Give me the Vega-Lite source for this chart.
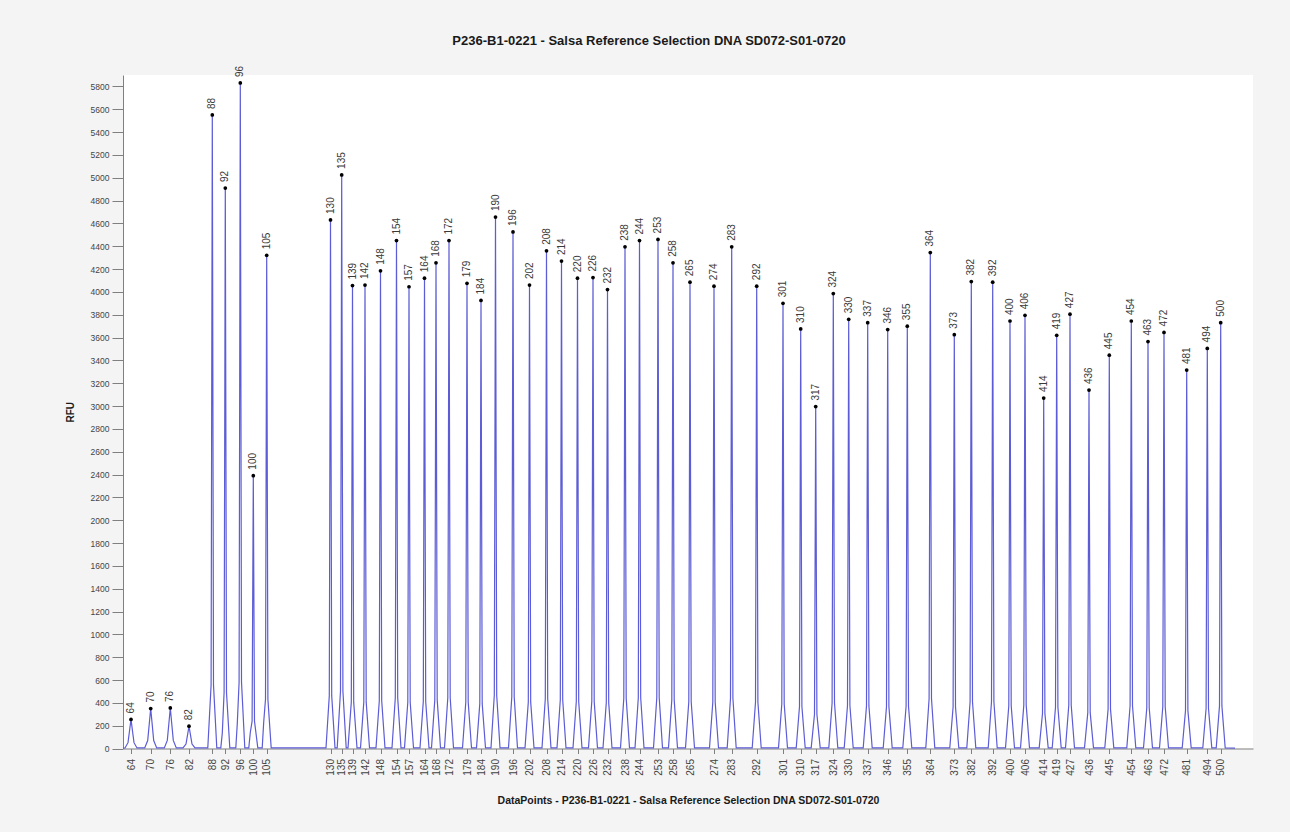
{
 "$schema": "https://vega.github.io/schema/vega-lite/v6.json",
 "autosize": {"type": "none"},
 "width": 1130,
 "height": 673.5,
 "padding": {"left": 123, "top": 75, "right": 37, "bottom": 83.5},
 "background": "#f4f4f4",
 "title": {"text": "P236-B1-0221 - Salsa Reference Selection DNA SD072-S01-0720", "font": "Liberation Sans", "fontSize": 13, "fontWeight": "bold", "color": "#1a1a1a", "anchor": "middle", "frame": "group", "dx": -39, "offset": 5, "baseline": "bottom"},
 "config": {"view": {"stroke": null, "fill": "white"}, "font": "Liberation Sans"},
 "datasets": {
  "trace": [
   {"x":0,"y":3},
   {"x":2.0,"y":5},{"x":5.0,"y":51},{"x":6.5,"y":153},{"x":8.0,"y":255},{"x":9.5,"y":153},{"x":11.0,"y":51},{"x":14.0,"y":5},
   {"x":21.7,"y":5},{"x":24.7,"y":70},{"x":26.2,"y":210},{"x":27.7,"y":350},{"x":29.2,"y":210},{"x":30.7,"y":70},{"x":33.7,"y":5},
   {"x":41.3,"y":5},{"x":44.3,"y":71},{"x":45.8,"y":213},{"x":47.3,"y":355},{"x":48.8,"y":213},{"x":50.3,"y":71},{"x":53.3,"y":5},
   {"x":60.0,"y":5},{"x":63.0,"y":39},{"x":64.5,"y":117},{"x":66.0,"y":195},{"x":67.5,"y":117},{"x":69.0,"y":39},{"x":72.0,"y":5},
   {"x":84.8,"y":5},{"x":88.1,"y":555},{"x":89.3,"y":5550},{"x":90.5,"y":555},{"x":93.8,"y":5},
   {"x":97.8,"y":5},{"x":99.3,"y":135},{"x":101.1,"y":491},{"x":102.3,"y":4910},{"x":103.5,"y":491},{"x":106.8,"y":5},
   {"x":112.8,"y":5},{"x":114.3,"y":220},{"x":116.1,"y":583},{"x":117.3,"y":5830},{"x":118.5,"y":583},{"x":121.8,"y":5},
   {"x":125.8,"y":5},{"x":127.3,"y":140},{"x":129.1,"y":239},{"x":130.3,"y":2390},{"x":131.5,"y":239},{"x":134.8,"y":5},
   {"x":139.2,"y":5},{"x":140.7,"y":230},{"x":142.5,"y":432},{"x":143.7,"y":4320},{"x":144.9,"y":432},{"x":148.2,"y":5},
   {"x":203.0,"y":5},{"x":206.3,"y":463},{"x":207.5,"y":4630},{"x":208.7,"y":463},{"x":212.0,"y":5},
   {"x":214.2,"y":5},{"x":217.5,"y":503},{"x":218.7,"y":5025},{"x":219.9,"y":503},{"x":223.2,"y":5},
   {"x":225.0,"y":5},{"x":228.3,"y":406},{"x":229.5,"y":4055},{"x":230.7,"y":406},{"x":234.0,"y":5},
   {"x":237.5,"y":5},{"x":240.8,"y":406},{"x":242.0,"y":4060},{"x":243.2,"y":406},{"x":246.5,"y":5},
   {"x":253.0,"y":5},{"x":256.3,"y":419},{"x":257.5,"y":4185},{"x":258.7,"y":419},{"x":262.0,"y":5},
   {"x":269.0,"y":5},{"x":272.3,"y":445},{"x":273.5,"y":4450},{"x":274.7,"y":445},{"x":278.0,"y":5},
   {"x":281.5,"y":5},{"x":284.8,"y":405},{"x":286.0,"y":4045},{"x":287.2,"y":405},{"x":290.5,"y":5},
   {"x":297.0,"y":5},{"x":300.3,"y":412},{"x":301.5,"y":4120},{"x":302.7,"y":412},{"x":306.0,"y":5},
   {"x":308.5,"y":5},{"x":311.8,"y":426},{"x":313.0,"y":4255},{"x":314.2,"y":426},{"x":317.5,"y":5},
   {"x":321.5,"y":5},{"x":324.8,"y":445},{"x":326.0,"y":4450},{"x":327.2,"y":445},{"x":330.5,"y":5},
   {"x":339.5,"y":5},{"x":342.8,"y":408},{"x":344.0,"y":4075},{"x":345.2,"y":408},{"x":348.5,"y":5},
   {"x":353.5,"y":5},{"x":356.8,"y":393},{"x":358.0,"y":3925},{"x":359.2,"y":393},{"x":362.5,"y":5},
   {"x":368.0,"y":5},{"x":371.3,"y":466},{"x":372.5,"y":4655},{"x":373.7,"y":466},{"x":377.0,"y":5},
   {"x":385.5,"y":5},{"x":388.8,"y":453},{"x":390.0,"y":4525},{"x":391.2,"y":453},{"x":394.5,"y":5},
   {"x":402.0,"y":5},{"x":405.3,"y":406},{"x":406.5,"y":4060},{"x":407.7,"y":406},{"x":411.0,"y":5},
   {"x":419.0,"y":5},{"x":422.3,"y":436},{"x":423.5,"y":4360},{"x":424.7,"y":436},{"x":428.0,"y":5},
   {"x":434.0,"y":5},{"x":437.3,"y":427},{"x":438.5,"y":4270},{"x":439.7,"y":427},{"x":443.0,"y":5},
   {"x":450.0,"y":5},{"x":453.3,"y":412},{"x":454.5,"y":4120},{"x":455.7,"y":412},{"x":459.0,"y":5},
   {"x":465.5,"y":5},{"x":468.8,"y":413},{"x":470.0,"y":4125},{"x":471.2,"y":413},{"x":474.5,"y":5},
   {"x":480.0,"y":5},{"x":483.3,"y":402},{"x":484.5,"y":4020},{"x":485.7,"y":402},{"x":489.0,"y":5},
   {"x":497.5,"y":5},{"x":500.8,"y":440},{"x":502.0,"y":4395},{"x":503.2,"y":440},{"x":506.5,"y":5},
   {"x":512.0,"y":5},{"x":515.3,"y":445},{"x":516.5,"y":4450},{"x":517.7,"y":445},{"x":521.0,"y":5},
   {"x":530.5,"y":5},{"x":533.8,"y":446},{"x":535.0,"y":4460},{"x":536.2,"y":446},{"x":539.5,"y":5},
   {"x":545.5,"y":5},{"x":548.8,"y":426},{"x":550.0,"y":4255},{"x":551.2,"y":426},{"x":554.5,"y":5},
   {"x":562.5,"y":5},{"x":565.8,"y":409},{"x":567.0,"y":4085},{"x":568.2,"y":409},{"x":571.5,"y":5},
   {"x":586.5,"y":5},{"x":589.8,"y":405},{"x":591.0,"y":4050},{"x":592.2,"y":405},{"x":595.5,"y":5},
   {"x":604.2,"y":5},{"x":607.5,"y":440},{"x":608.7,"y":4395},{"x":609.9,"y":440},{"x":613.2,"y":5},
   {"x":629.2,"y":5},{"x":632.5,"y":405},{"x":633.7,"y":4050},{"x":634.9,"y":405},{"x":638.2,"y":5},
   {"x":655.5,"y":5},{"x":658.8,"y":390},{"x":660.0,"y":3900},{"x":661.2,"y":390},{"x":664.5,"y":5},
   {"x":673.2,"y":5},{"x":676.5,"y":368},{"x":677.7,"y":3675},{"x":678.9,"y":368},{"x":682.2,"y":5},
   {"x":688.2,"y":5},{"x":691.5,"y":300},{"x":692.7,"y":2995},{"x":693.9,"y":300},{"x":697.2,"y":5},
   {"x":705.8,"y":5},{"x":709.1,"y":399},{"x":710.3,"y":3985},{"x":711.5,"y":399},{"x":714.8,"y":5},
   {"x":721.2,"y":5},{"x":724.5,"y":376},{"x":725.7,"y":3760},{"x":726.9,"y":376},{"x":730.2,"y":5},
   {"x":740.2,"y":5},{"x":743.5,"y":373},{"x":744.7,"y":3730},{"x":745.9,"y":373},{"x":749.2,"y":5},
   {"x":760.2,"y":5},{"x":763.5,"y":367},{"x":764.7,"y":3670},{"x":765.9,"y":367},{"x":769.2,"y":5},
   {"x":779.8,"y":5},{"x":783.1,"y":370},{"x":784.3,"y":3700},{"x":785.5,"y":370},{"x":788.8,"y":5},
   {"x":802.8,"y":5},{"x":806.1,"y":435},{"x":807.3,"y":4345},{"x":808.5,"y":435},{"x":811.8,"y":5},
   {"x":826.8,"y":5},{"x":830.1,"y":363},{"x":831.3,"y":3625},{"x":832.5,"y":363},{"x":835.8,"y":5},
   {"x":843.8,"y":5},{"x":847.1,"y":409},{"x":848.3,"y":4090},{"x":849.5,"y":409},{"x":852.8,"y":5},
   {"x":865.2,"y":5},{"x":868.5,"y":409},{"x":869.7,"y":4085},{"x":870.9,"y":409},{"x":874.2,"y":5},
   {"x":882.5,"y":5},{"x":885.8,"y":375},{"x":887.0,"y":3745},{"x":888.2,"y":375},{"x":891.5,"y":5},
   {"x":897.5,"y":5},{"x":900.8,"y":380},{"x":902.0,"y":3795},{"x":903.2,"y":380},{"x":906.5,"y":5},
   {"x":916.2,"y":5},{"x":919.5,"y":307},{"x":920.7,"y":3070},{"x":921.9,"y":307},{"x":925.2,"y":5},
   {"x":929.2,"y":5},{"x":932.5,"y":362},{"x":933.7,"y":3620},{"x":934.9,"y":362},{"x":938.2,"y":5},
   {"x":942.5,"y":5},{"x":945.8,"y":381},{"x":947.0,"y":3805},{"x":948.2,"y":381},{"x":951.5,"y":5},
   {"x":961.5,"y":5},{"x":964.8,"y":314},{"x":966.0,"y":3140},{"x":967.2,"y":314},{"x":970.5,"y":5},
   {"x":981.8,"y":5},{"x":985.1,"y":345},{"x":986.3,"y":3445},{"x":987.5,"y":345},{"x":990.8,"y":5},
   {"x":1003.8,"y":5},{"x":1007.1,"y":375},{"x":1008.3,"y":3745},{"x":1009.5,"y":375},{"x":1012.8,"y":5},
   {"x":1020.5,"y":5},{"x":1023.8,"y":357},{"x":1025.0,"y":3565},{"x":1026.2,"y":357},{"x":1029.5,"y":5},
   {"x":1036.5,"y":5},{"x":1039.8,"y":365},{"x":1041.0,"y":3645},{"x":1042.2,"y":365},{"x":1045.5,"y":5},
   {"x":1059.2,"y":5},{"x":1062.5,"y":332},{"x":1063.7,"y":3315},{"x":1064.9,"y":332},{"x":1068.2,"y":5},
   {"x":1079.8,"y":5},{"x":1083.1,"y":351},{"x":1084.3,"y":3505},{"x":1085.5,"y":351},{"x":1088.8,"y":5},
   {"x":1093.2,"y":5},{"x":1096.5,"y":373},{"x":1097.7,"y":3730},{"x":1098.9,"y":373},{"x":1102.2,"y":5},
   {"x":1112,"y":3}
  ],
  "peaks": [
   {"s":"64","x":8,"y":255},{"s":"70","x":27.7,"y":350},{"s":"76","x":47.3,"y":355},{"s":"82","x":66,"y":195},
   {"s":"88","x":89.3,"y":5550},{"s":"92","x":102.3,"y":4910},{"s":"96","x":117.3,"y":5830},{"s":"100","x":130.3,"y":2390},{"s":"105","x":143.7,"y":4320},
   {"s":"130","x":207.5,"y":4630},{"s":"135","x":218.7,"y":5025},{"s":"139","x":229.5,"y":4055},{"s":"142","x":242,"y":4060},{"s":"148","x":257.5,"y":4185},
   {"s":"154","x":273.5,"y":4450},{"s":"157","x":286,"y":4045},{"s":"164","x":301.5,"y":4120},{"s":"168","x":313,"y":4255},{"s":"172","x":326,"y":4450},
   {"s":"179","x":344,"y":4075},{"s":"184","x":358,"y":3925},{"s":"190","x":372.5,"y":4655},{"s":"196","x":390,"y":4525},{"s":"202","x":406.5,"y":4060},
   {"s":"208","x":423.5,"y":4360},{"s":"214","x":438.5,"y":4270},{"s":"220","x":454.5,"y":4120},{"s":"226","x":470,"y":4125},{"s":"232","x":484.5,"y":4020},
   {"s":"238","x":502,"y":4395},{"s":"244","x":516.5,"y":4450},{"s":"253","x":535,"y":4460},{"s":"258","x":550,"y":4255},{"s":"265","x":567,"y":4085},
   {"s":"274","x":591,"y":4050},{"s":"283","x":608.7,"y":4395},{"s":"292","x":633.7,"y":4050},{"s":"301","x":660,"y":3900},{"s":"310","x":677.7,"y":3675},
   {"s":"317","x":692.7,"y":2995},{"s":"324","x":710.3,"y":3985},{"s":"330","x":725.7,"y":3760},{"s":"337","x":744.7,"y":3730},{"s":"346","x":764.7,"y":3670},
   {"s":"355","x":784.3,"y":3700},{"s":"364","x":807.3,"y":4345},{"s":"373","x":831.3,"y":3625},{"s":"382","x":848.3,"y":4090},{"s":"392","x":869.7,"y":4085},
   {"s":"400","x":887,"y":3745},{"s":"406","x":902,"y":3795},{"s":"414","x":920.7,"y":3070},{"s":"419","x":933.7,"y":3620},{"s":"427","x":947,"y":3805},
   {"s":"436","x":966,"y":3140},{"s":"445","x":986.3,"y":3445},{"s":"454","x":1008.3,"y":3745},{"s":"463","x":1025,"y":3565},{"s":"472","x":1041,"y":3645},
   {"s":"481","x":1063.7,"y":3315},{"s":"494","x":1084.3,"y":3505},{"s":"500","x":1097.7,"y":3730}
  ]
 },
 "encoding": {
  "x": {
   "field": "x", "type": "quantitative",
   "scale": {"domain": [0, 1130], "nice": false, "zero": false},
   "axis": {
    "values": [8,27.7,47.3,66,89.3,102.3,117.3,130.3,143.7,207.5,218.7,229.5,242,257.5,273.5,286,301.5,313,326,344,358,372.5,390,406.5,423.5,438.5,454.5,470,484.5,502,516.5,535,550,567,591,608.7,633.7,660,677.7,692.7,710.3,725.7,744.7,764.7,784.3,807.3,831.3,848.3,869.7,887,902,920.7,933.7,947,966,986.3,1008.3,1025,1041,1063.7,1084.3,1097.7],
    "labelExpr": "['64','70','76','82','88','92','96','100','105','130','135','139','142','148','154','157','164','168','172','179','184','190','196','202','208','214','220','226','232','238','244','253','258','265','274','283','292','301','310','317','324','330','337','346','355','364','373','382','392','400','406','414','419','427','436','445','454','463','472','481','494','500'][indexof([8,27.7,47.3,66,89.3,102.3,117.3,130.3,143.7,207.5,218.7,229.5,242,257.5,273.5,286,301.5,313,326,344,358,372.5,390,406.5,423.5,438.5,454.5,470,484.5,502,516.5,535,550,567,591,608.7,633.7,660,677.7,692.7,710.3,725.7,744.7,764.7,784.3,807.3,831.3,848.3,869.7,887,902,920.7,933.7,947,966,986.3,1008.3,1025,1041,1063.7,1084.3,1097.7], datum.value)]",
    "labelAngle": 270, "labelAlign": "right", "labelBaseline": "middle",
    "labelFontSize": 10, "labelColor": "#444444", "labelPadding": 5,
    "labelOverlap": false, "labelFlush": false,
    "tickSize": 5, "tickColor": "#808080", "domainColor": "#808080", "grid": false,
    "title": "DataPoints - P236-B1-0221 - Salsa Reference Selection DNA SD072-S01-0720",
    "titleFontSize": 10.5, "titleFontWeight": "bold", "titleColor": "#1a1a1a",
    "titleY": 51.5, "titleBaseline": "middle"
   }
  },
  "y": {
   "field": "y", "type": "quantitative",
   "scale": {"domain": [0, 5900], "nice": false},
   "axis": {
    "values": [0,200,400,600,800,1000,1200,1400,1600,1800,2000,2200,2400,2600,2800,3000,3200,3400,3600,3800,4000,4200,4400,4600,4800,5000,5200,5400,5600,5800],
    "format": "d",
    "labelFontSize": 8.5, "labelColor": "#444444", "labelPadding": 3,
    "tickSize": 11, "tickColor": "#808080", "domainColor": "#808080", "grid": false,
    "title": "RFU", "titleFontSize": 10, "titleFontWeight": "bold", "titleColor": "#1a1a1a",
    "titleX": -53, "titleY": 336.75, "titleAngle": 270, "titleAlign": "center", "titleBaseline": "middle"
   }
  }
 },
 "layer": [
  {"data": {"name": "trace"}, "mark": {"type": "line", "color": "#5c5cd6", "strokeWidth": 1.2}},
  {"data": {"name": "peaks"}, "mark": {"type": "circle", "color": "#000000", "size": 14, "opacity": 1}},
  {"data": {"name": "peaks"}, "mark": {"type": "text", "angle": 270, "align": "left", "baseline": "middle", "dx": 6, "fontSize": 10, "color": "#3a3a3a"}, "encoding": {"text": {"field": "s"}}}
 ]
}
